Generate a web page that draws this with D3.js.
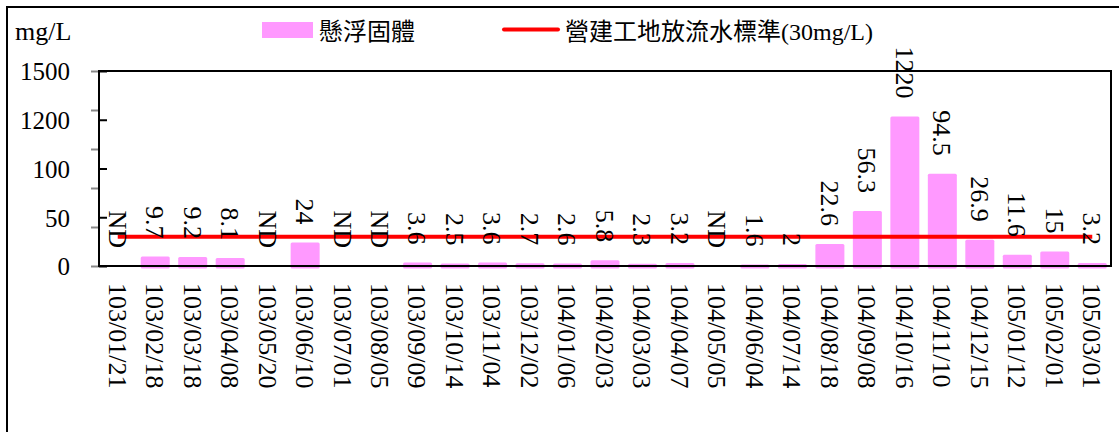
<!DOCTYPE html>
<html>
<head>
<meta charset="utf-8">
<script src="https://cdn.jsdelivr.net/npm/d3@7"></script>
<style>
  html, body { margin: 0; padding: 0; background: #fff; }
  svg { display: block; }
  text { font-family: "Liberation Serif", "Noto Sans CJK TC", serif; fill: #000; }
</style>
</head>
<body>
<svg id="chart" width="1119" height="432"></svg>
<script>
// ---- data ----
const categories = ["103/01/21","103/02/18","103/03/18","103/04/08","103/05/20","103/06/10","103/07/01","103/08/05","103/09/09","103/10/14","103/11/04","103/12/02","104/01/06","104/02/03","104/03/03","104/04/07","104/05/05","104/06/04","104/07/14","104/08/18","104/09/08","104/10/16","104/11/10","104/12/15","105/01/12","105/02/01","105/03/01"];
const suspendedSolids = [null, 9.7, 9.2, 8.1, null, 24, null, null, 3.6, 2.5, 3.6, 2.7, 2.6, 5.8, 2.3, 3.2, null, 1.6, 2, 22.6, 56.3, 1220, 94.5, 26.9, 11.6, 15, 3.2];
const standardValue = 30;
const yTickValues = [0, 50, 100, 1200, 1500];
const yTickLabels = ["0", "50", "100", "1200", "1500"];
const seriesNames = ["懸浮固體", "營建工地放流水標準(30mg/L)"];
const yUnit = "mg/L";

// ---- layout ----
const svg = d3.select("#chart");
const plot = { left: 99, right: 1111, top: 71, bottom: 266 };
const pink = "#ff99ff";

// outer chart frame (only top & left visible)
svg.append("rect").attr("x", 7).attr("y", 7).attr("width", 1200).attr("height", 600)
  .attr("fill", "none").attr("stroke", "#000").attr("stroke-width", 2);

const x = d3.scaleBand().domain(categories).range([plot.left, plot.right]).paddingInner(0.22).paddingOuter(0.11);
// broken axis: equally spaced ticks for 0,50,100,1200,1500
const yRange = yTickValues.map((d, i) => plot.bottom - i * (plot.bottom - plot.top) / (yTickValues.length - 1));
const y = d3.scaleLinear().domain(yTickValues).range(yRange);
const cx = c => x(c) + x.bandwidth() / 2;

// secondary (grey) outer ticks
const yGrey = d3.scaleLinear().domain([0, 5]).range([plot.bottom, plot.top]);
const gGrey = svg.append("g").attr("transform", `translate(${plot.left},0)`)
  .call(d3.axisLeft(yGrey).ticks(5).tickSize(8).tickFormat(""));
gGrey.select(".domain").remove();
gGrey.selectAll("line").attr("stroke", "#888").attr("stroke-width", 2);

// bars
const data = categories.map((c, i) => ({ c, v: suspendedSolids[i] }));
svg.append("g").selectAll("rect").data(data.filter(d => d.v !== null)).join("rect")
  .attr("x", d => cx(d.c) - 14.5)
  .attr("width", 29)
  .attr("y", d => y(d.v))
  .attr("height", d => y(0) - y(d.v) + 2.5)
  .attr("rx", 1.5)
  .attr("fill", pink);

// plot border
svg.append("rect").attr("x", plot.left).attr("y", plot.top)
  .attr("width", plot.right - plot.left).attr("height", plot.bottom - plot.top)
  .attr("fill", "none").attr("stroke", "#000").attr("stroke-width", 2);

// y axis (inner ticks, labels)
const gy = svg.append("g").attr("transform", `translate(${plot.left},0)`)
  .call(d3.axisLeft(y).tickValues(yTickValues).tickSizeInner(-8).tickSizeOuter(0)
    .tickPadding(29).tickFormat((d, i) => yTickLabels[i]));
gy.select(".domain").remove();
gy.selectAll("line").attr("stroke", "#000").attr("stroke-width", 2);
gy.selectAll("text").attr("font-size", 25).attr("font-family", "Liberation Serif").attr("dy", "0.35em");

// x labels
const gx = svg.append("g");
gx.selectAll("text").data(categories).join("text")
  .attr("transform", d => `translate(${cx(d)},${plot.bottom + 17}) rotate(90)`)
  .attr("text-anchor", "start").attr("dy", "0.35em")
  .attr("font-size", 26).text(d => d);

// standard line
svg.append("line")
  .attr("x1", cx(categories[0])).attr("x2", cx(categories[categories.length - 1]))
  .attr("y1", y(standardValue)).attr("y2", y(standardValue))
  .attr("stroke", "#ff0000").attr("stroke-width", 4);

// value labels
svg.append("g").selectAll("text").data(data).join("text")
  .attr("transform", d => `translate(${cx(d.c)},${y(d.v === null ? 0 : d.v) - 18}) rotate(90)`)
  .attr("text-anchor", "end").attr("dy", "0.35em")
  .attr("font-size", 26)
  .text(d => d.v === null ? "ND" : d.v);

// unit
svg.append("text").attr("x", 15).attr("y", 40).attr("font-size", 26).text(yUnit);

// legend
svg.append("rect").attr("x", 262).attr("y", 22).attr("width", 51).attr("height", 16).attr("fill", pink);
svg.append("text").attr("x", 319).attr("y", 40).attr("font-size", 24).text(seriesNames[0]);
svg.append("line").attr("x1", 504).attr("x2", 558).attr("y1", 29.5).attr("y2", 29.5)
  .attr("stroke", "#ff0000").attr("stroke-width", 4).attr("stroke-linecap", "round");
svg.append("text").attr("x", 565).attr("y", 40).attr("font-size", 24).text(seriesNames[1]);
</script>
</body>
</html>
